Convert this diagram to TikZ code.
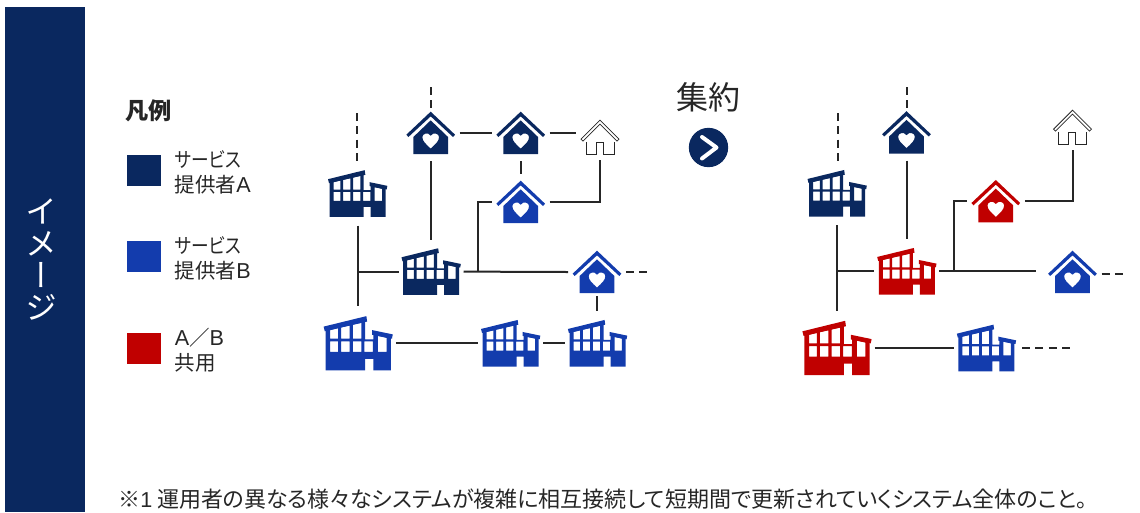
\documentclass[tikz,border=0pt]{standalone}
\usepackage{fontspec}
\setmainfont[RawFeature={+palt}]{Noto Sans CJK JP}
\newfontfamily\vertfont[RawFeature={+vert}]{Noto Sans CJK JP}
\newfontfamily\kanafont[RawFeature={+palt},FakeStretch=0.86]{Noto Sans CJK JP}
\newfontfamily\latinfont{Liberation Sans}
\newcommand{\lat}[1]{{\latinfont\fontsize{16.2}{18.75}\selectfont #1}}
\definecolor{cnavy}{HTML}{0A285F}
\definecolor{cblue}{HTML}{133CAD}
\definecolor{cred}{HTML}{C00000}
\definecolor{cline}{HTML}{262626}
\tikzset{
	wire/.style={cline,line width=1.5pt},
	dashwire/.style={cline,line width=1.5pt,dash pattern=on 6pt off 4pt},
	note/.style={text=cline,inner sep=0,anchor=west,align=left,font=\fontsize{15.4}{18.75}\selectfont},
	swatch/.style={inner sep=0,minimum width=25.5pt,minimum height=23.25pt},
	homebox/.style={inner sep=0,outer sep=0,minimum width=43.5pt,minimum height=42pt},
	openbox/.style={inner sep=0,outer sep=0,minimum width=36pt,minimum height=33pt},
	home/.pic={
		\fill[#1,scale=0.3333] (-73,5) -- (0,-64) -- (73,5) -- (67,12) -- (0,-50) -- (-67,12) -- cycle;
		\fill[#1,scale=0.3333,even odd rule] (-52,12) -- (0,-38) -- (52,12) -- (52,63) -- (-52,63) -- cycle
			(0,47) .. controls (-15,32) and (-25,25) .. (-25,12) .. controls (-25,2) and (-8,-4) .. (0,8)
			.. controls (8,-4) and (25,2) .. (25,12) .. controls (25,25) and (15,32) .. (0,47) -- cycle;
	},
	openhome/.pic={
		\draw[cline,line width=0.6pt,scale=0.3333] (-57,5) -- (0,-52) -- (57,5) -- (51,11) -- (0,-40) -- (-51,11) -- cycle;
		\draw[cline,line width=0.6pt,scale=0.3333] (-41,13) -- (-41,51) -- (-11,51) -- (-11,15) -- (9,15) -- (9,51) -- (43,51) -- (43,13);
	},
	plant/.pic={
		\fill[#1,scale=0.3333] (-88.5,-43) -- (21.5,-70) -- (23.5,-56) -- (-85.5,-31) -- cycle;
		\fill[#1,scale=0.3333] (36.5,-34) -- (89.5,-23) -- (87.5,-12) -- (36.5,-22) -- cycle;
		\fill[#1,scale=0.3333,even odd rule] (-83.5,-40) -- (18.5,-65) -- (18.5,-10) -- (39.5,-10) -- (39.5,-28) -- (84.5,-18)
			-- (84.5,70) -- (39.5,70) -- (39.5,40) -- (18.5,40) -- (18.5,70) -- (-83.5,70) -- cycle
			(-71.5,-34) -- (-51.5,-39) -- (-51.5,-12) -- (-71.5,-12) -- cycle
			(-43.5,-41) -- (-21.5,-46) -- (-21.5,-12) -- (-43.5,-12) -- cycle
			(-13.5,-48) -- (8.5,-53) -- (8.5,-12) -- (-13.5,-12) -- cycle
			(-71.5,-5) rectangle (-51.5,22)
			(-43.5,-5) rectangle (-21.5,22)
			(-13.5,-5) rectangle (8.5,22)
			(16.5,-5) rectangle (38.5,22)
			(51.5,-19) -- (73.5,-14) -- (73.5,22) -- (51.5,22) -- cycle;
	},
}

\begin{document}
\begin{tikzpicture}[x=0.75pt,y=-0.75pt]
	\useasboundingbox (0,0) rectangle (1140,512);
	\fill[cnavy] (5,7) rectangle (85,512);
	\node[text=white,inner sep=0,align=center,font=\vertfont\fontsize{24}{24}\selectfont] (title) at (41.5,260) {イ\\メ\\ー\\ジ};

	% legend
	\node[text=cline,inner sep=0,anchor=west,font=\fontsize{17.4}{20}\selectfont\bfseries] (legend) at (125.5,111) {凡例};
	\foreach \name/\py/\col/\txt in {la/170.5/cnavy/{\kanafont サービス}\\提供者\lat{A},lb/256.5/cblue/{\kanafont サービス}\\提供者\lat{B},lc/348.5/cred/\lat{A}／\lat{B}\\共用}{
		\node[swatch,fill=\col] (\name) at (144,\py) {};
		\node[note] (\name t) at (174.5,\py+1.5) {\txt};
	}

	% middle
	\node[text=cline,inner sep=0,font=\fontsize{24}{28}\selectfont] (merge) at (708,97) {集約};
	\node[circle,fill=cnavy,inner sep=0,minimum size=29.5pt] (go) at (708.5,147.5) {};
	\draw[white,line width=3pt,line cap=round,line join=round,shift={(go)}] (-6.5,-10.5) -- (8,0) -- (-6.5,11);

	% icons
	\foreach \name/\px/\py/\col in {h1/430.7/133/cnavy,h2/520.7/133/cnavy,h3/520.7/202/cblue,h4/597/272/cblue,
		r1/906.5/132.5/cnavy,r3/995.8/201.3/cred,r4/1072.5/272/cblue}{
		\node[homebox] (\name) at (\px,\py) {};
		\pic at (\name) {home=\col};
	}
	\foreach \name/\px/\py in {h5/600/137.5,r5/1072.5/127.5}{
		\node[openbox] (\name) at (\px,\py) {};
		\pic at (\name) {openhome};
	}
	\foreach \name/\px/\py/\col/\sc in {pa/357.5/193.5/cnavy/1,pb/431/271.6/cnavy/1,pc/358/343.3/cblue/1.165,
		pd/510.5/343.3/cblue/1,pe/597.4/343.3/cblue/1,
		qa/837/193.3/cnavy/1,qb/906.7/271.3/cred/1,qc/836.8/348/cred/1.165,qd/986.3/348/cblue/1}{
		\node[inner sep=0,outer sep=0,minimum width=\sc*48.75pt,minimum height=\sc*48pt] (\name) at (\px,\py) {};
		\pic[scale=\sc] at (\name) {plant=\col};
	}

	% free ends and junctions
	\coordinate (t1) at (430.7,87);
	\coordinate (t2) at (356.5,113);
	\coordinate (t3) at (648,272);
	\coordinate (j1) at (358,271.6);
	\coordinate (j2) at (477.5,271.6);
	\coordinate (u1) at (907,87);
	\coordinate (u2) at (838,113);
	\coordinate (u3) at (1125,273.5);
	\coordinate (u4) at (1073,348);
	\coordinate (k1) at (836.5,271.3);
	\coordinate (k2) at (953.5,271.3);

	% left network
	\draw[dashwire,shorten >=-3pt] (t1) -- (h1.north);
	\draw[dashwire] (t2) -- (pa.north -| t2);
	\draw[wire] (h1.east) -- (h2.west);
	\draw[wire] (h2.east) -- (h2.east -| h5.west);
	\draw[wire] (h2.south) -- (h3.north);
	\draw[wire] (h1.south) -- (pb.north -| h1);
	\draw[wire] (j1 |- pa.south) -- (j1 |- pc.north);
	\draw[wire] (j1) -- (pb.west);
	\draw[wire] (pb.east) -- (h4.west);
	\draw[wire] (h3.west) -| (j2);
	\draw[wire] (h3.east) -| (h5.south);
	\draw[dashwire] (h4.east) -- (t3);
	\draw[wire,shorten <=-3pt] (h4.south -| pe) -- (pe.north);
	\draw[wire] (pc.east) -- (pd.west);
	\draw[wire] (pd.east) -- (pe.west);

	% right network
	\draw[dashwire,shorten >=-3pt] (u1) -- (r1.north -| u1);
	\draw[dashwire] (u2) -- (qa.north -| u2);
	\draw[wire] (k1 |- qa.south) -- (k1 |- qc.north);
	\draw[wire] (k1) -- (qb.west);
	\draw[wire] (r1.south) -- (qb.north -| r1);
	\draw[wire,shorten >=6pt] (qb.east) -- (r4.west |- qb);
	\draw[wire] (r3.west) -| (k2);
	\draw[wire] (r3.east) -| (r5.south);
	\draw[dashwire] (r4.east |- u3) -- (u3);
	\draw[wire] (qc.east) -- (qd.west);
	\draw[dashwire,shorten <=2.5pt] (qd.east) -- (u4);

	% footnote
	\node[text=cline,inner sep=0,anchor=west,font=\fontsize{16.5}{20}\selectfont] (foot) at (118,499) {※\lat{1} 運用者の異なる様々なシステムが複雑に相互接続して短期間で更新されていくシステム全体のこと。};
\end{tikzpicture}
\end{document}
